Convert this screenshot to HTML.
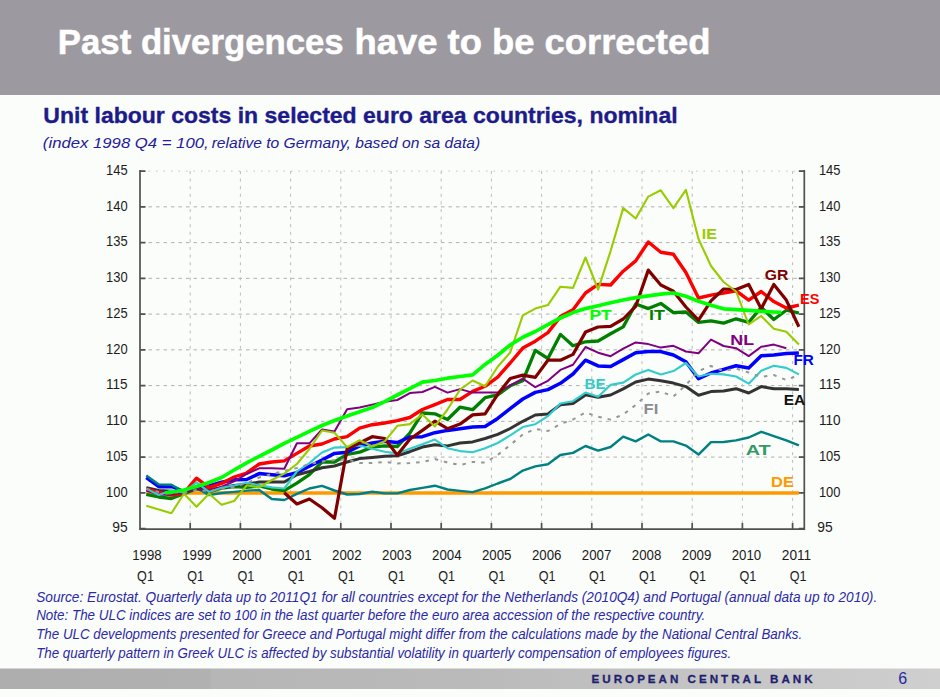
<!DOCTYPE html><html><head><meta charset="utf-8"><title>Past divergences have to be corrected</title>
<style>html,body{margin:0;padding:0;background:#fbfdfa;}body{width:940px;height:697px;overflow:hidden;position:relative;}svg{position:absolute;left:0;top:0;display:block;}text{font-family:"Liberation Sans",Arial,sans-serif;}</style></head><body>
<svg width="940" height="697" viewBox="0 0 940 697">
<defs><linearGradient id="fg" x1="0" y1="0" x2="1" y2="0"><stop offset="0" stop-color="#aeaeae"/><stop offset="0.222" stop-color="#b1b1b1"/><stop offset="0.226" stop-color="#b6b6b6"/><stop offset="0.5" stop-color="#bababa"/><stop offset="1" stop-color="#cfcfcf"/></linearGradient></defs>
<rect x="0" y="0" width="940" height="95" fill="#9c9aa0"/>
<g font-size="34.5" font-weight="bold" font-style="normal" fill="#ffffff" stroke="#ffffff" stroke-width="0.5"><text x="57.85" y="53.70" textLength="285.86" lengthAdjust="spacingAndGlyphs">Past divergences</text><text x="354.51" y="53.70" textLength="355.86" lengthAdjust="spacingAndGlyphs">have to be corrected</text></g>
<g font-size="21.6" font-weight="bold" font-style="normal" fill="#1d1b8a" stroke="#1d1b8a" stroke-width="0.35"><text x="43.39" y="123.30" textLength="634.24" lengthAdjust="spacingAndGlyphs">Unit labour costs in selected euro area countries, nominal</text></g>
<g font-size="15.4" font-weight="normal" font-style="italic" fill="#23209a"><text x="42.89" y="147.60" textLength="165.76" lengthAdjust="spacingAndGlyphs">(index 1998 Q4 = 100,</text><text x="211.66" y="147.60" textLength="268.44" lengthAdjust="spacingAndGlyphs">relative to Germany, based on sa data)</text></g>
<path d="M141 492.85H804M141 457.10H804M141 421.35H804M141 385.60H804M141 349.85H804M141 314.10H804M141 278.35H804M141 242.60H804M141 206.85H804" stroke="#b0b0b0" stroke-width="1" stroke-dasharray="3.5 4" fill="none"/>
<path d="M141 171.10H804" stroke="#c4c4c4" stroke-width="1" stroke-dasharray="1.5 6" fill="none"/>
<path d="M190.20 171V528M240.40 171V528M290.60 171V528M340.80 171V528M391.00 171V528M441.20 171V528M491.40 171V528M541.60 171V528M591.80 171V528M642.00 171V528M692.20 171V528M742.40 171V528M792.60 171V528" stroke="#bcbcbc" stroke-width="1" stroke-dasharray="3 4.6" fill="none"/>
<path d="M140 170V529.6M139.1 529.2H805.2M804.3 170V530M140 528.6H145.5M798.8 528.6H804.3M140 492.9H145.5M798.8 492.9H804.3M140 457.1H145.5M798.8 457.1H804.3M140 421.4H145.5M798.8 421.4H804.3M140 385.6H145.5M798.8 385.6H804.3M140 349.9H145.5M798.8 349.9H804.3M140 314.1H145.5M798.8 314.1H804.3M140 278.4H145.5M798.8 278.4H804.3M140 242.6H145.5M798.8 242.6H804.3M140 206.9H145.5M798.8 206.9H804.3M140 171.1H145.5M798.8 171.1H804.3M190.2 523V529M240.4 523V529M290.6 523V529M340.8 523V529M391.0 523V529M441.2 523V529M491.4 523V529M541.6 523V529M591.8 523V529M642.0 523V529M692.2 523V529M742.4 523V529M792.6 523V529" stroke="#505050" stroke-width="1.7" fill="none"/>
<g fill="#1c1c1c"><text x="127.6" y="532.3" text-anchor="end" font-size="14.8" textLength="15.4" lengthAdjust="spacingAndGlyphs">95</text><text x="817.3" y="532.3" font-size="14.8" textLength="15.4" lengthAdjust="spacingAndGlyphs">95</text><text x="127.6" y="496.6" text-anchor="end" font-size="14.8" textLength="21.6" lengthAdjust="spacingAndGlyphs">100</text><text x="818.9" y="496.6" font-size="14.8" textLength="21.6" lengthAdjust="spacingAndGlyphs">100</text><text x="127.6" y="460.8" text-anchor="end" font-size="14.8" textLength="21.6" lengthAdjust="spacingAndGlyphs">105</text><text x="818.9" y="460.8" font-size="14.8" textLength="21.6" lengthAdjust="spacingAndGlyphs">105</text><text x="127.6" y="425.1" text-anchor="end" font-size="14.8" textLength="21.6" lengthAdjust="spacingAndGlyphs">110</text><text x="818.9" y="425.1" font-size="14.8" textLength="21.6" lengthAdjust="spacingAndGlyphs">110</text><text x="127.6" y="389.3" text-anchor="end" font-size="14.8" textLength="21.6" lengthAdjust="spacingAndGlyphs">115</text><text x="818.9" y="389.3" font-size="14.8" textLength="21.6" lengthAdjust="spacingAndGlyphs">115</text><text x="127.6" y="353.6" text-anchor="end" font-size="14.8" textLength="21.6" lengthAdjust="spacingAndGlyphs">120</text><text x="818.9" y="353.6" font-size="14.8" textLength="21.6" lengthAdjust="spacingAndGlyphs">120</text><text x="127.6" y="317.8" text-anchor="end" font-size="14.8" textLength="21.6" lengthAdjust="spacingAndGlyphs">125</text><text x="818.9" y="317.8" font-size="14.8" textLength="21.6" lengthAdjust="spacingAndGlyphs">125</text><text x="127.6" y="282.1" text-anchor="end" font-size="14.8" textLength="21.6" lengthAdjust="spacingAndGlyphs">130</text><text x="818.9" y="282.1" font-size="14.8" textLength="21.6" lengthAdjust="spacingAndGlyphs">130</text><text x="127.6" y="246.3" text-anchor="end" font-size="14.8" textLength="21.6" lengthAdjust="spacingAndGlyphs">135</text><text x="818.9" y="246.3" font-size="14.8" textLength="21.6" lengthAdjust="spacingAndGlyphs">135</text><text x="127.6" y="210.6" text-anchor="end" font-size="14.8" textLength="21.6" lengthAdjust="spacingAndGlyphs">140</text><text x="818.9" y="210.6" font-size="14.8" textLength="21.6" lengthAdjust="spacingAndGlyphs">140</text><text x="127.6" y="174.8" text-anchor="end" font-size="14.8" textLength="21.6" lengthAdjust="spacingAndGlyphs">145</text><text x="818.9" y="174.8" font-size="14.8" textLength="21.6" lengthAdjust="spacingAndGlyphs">145</text><text x="147.0" y="559.9" text-anchor="middle" font-size="14" textLength="29.5" lengthAdjust="spacingAndGlyphs">1998</text><text x="145.5" y="581" text-anchor="middle" font-size="14" textLength="16.8" lengthAdjust="spacingAndGlyphs">Q1</text><text x="197.0" y="559.9" text-anchor="middle" font-size="14" textLength="29.5" lengthAdjust="spacingAndGlyphs">1999</text><text x="195.7" y="581" text-anchor="middle" font-size="14" textLength="16.8" lengthAdjust="spacingAndGlyphs">Q1</text><text x="246.9" y="559.9" text-anchor="middle" font-size="14" textLength="29.5" lengthAdjust="spacingAndGlyphs">2000</text><text x="245.9" y="581" text-anchor="middle" font-size="14" textLength="16.8" lengthAdjust="spacingAndGlyphs">Q1</text><text x="296.9" y="559.9" text-anchor="middle" font-size="14" textLength="29.5" lengthAdjust="spacingAndGlyphs">2001</text><text x="296.1" y="581" text-anchor="middle" font-size="14" textLength="16.8" lengthAdjust="spacingAndGlyphs">Q1</text><text x="346.8" y="559.9" text-anchor="middle" font-size="14" textLength="29.5" lengthAdjust="spacingAndGlyphs">2002</text><text x="346.3" y="581" text-anchor="middle" font-size="14" textLength="16.8" lengthAdjust="spacingAndGlyphs">Q1</text><text x="396.8" y="559.9" text-anchor="middle" font-size="14" textLength="29.5" lengthAdjust="spacingAndGlyphs">2003</text><text x="396.5" y="581" text-anchor="middle" font-size="14" textLength="16.8" lengthAdjust="spacingAndGlyphs">Q1</text><text x="446.8" y="559.9" text-anchor="middle" font-size="14" textLength="29.5" lengthAdjust="spacingAndGlyphs">2004</text><text x="446.7" y="581" text-anchor="middle" font-size="14" textLength="16.8" lengthAdjust="spacingAndGlyphs">Q1</text><text x="496.7" y="559.9" text-anchor="middle" font-size="14" textLength="29.5" lengthAdjust="spacingAndGlyphs">2005</text><text x="496.9" y="581" text-anchor="middle" font-size="14" textLength="16.8" lengthAdjust="spacingAndGlyphs">Q1</text><text x="546.7" y="559.9" text-anchor="middle" font-size="14" textLength="29.5" lengthAdjust="spacingAndGlyphs">2006</text><text x="547.1" y="581" text-anchor="middle" font-size="14" textLength="16.8" lengthAdjust="spacingAndGlyphs">Q1</text><text x="596.6" y="559.9" text-anchor="middle" font-size="14" textLength="29.5" lengthAdjust="spacingAndGlyphs">2007</text><text x="597.3" y="581" text-anchor="middle" font-size="14" textLength="16.8" lengthAdjust="spacingAndGlyphs">Q1</text><text x="646.6" y="559.9" text-anchor="middle" font-size="14" textLength="29.5" lengthAdjust="spacingAndGlyphs">2008</text><text x="647.5" y="581" text-anchor="middle" font-size="14" textLength="16.8" lengthAdjust="spacingAndGlyphs">Q1</text><text x="696.6" y="559.9" text-anchor="middle" font-size="14" textLength="29.5" lengthAdjust="spacingAndGlyphs">2009</text><text x="697.7" y="581" text-anchor="middle" font-size="14" textLength="16.8" lengthAdjust="spacingAndGlyphs">Q1</text><text x="746.5" y="559.9" text-anchor="middle" font-size="14" textLength="29.5" lengthAdjust="spacingAndGlyphs">2010</text><text x="747.9" y="581" text-anchor="middle" font-size="14" textLength="16.8" lengthAdjust="spacingAndGlyphs">Q1</text><text x="796.5" y="559.9" text-anchor="middle" font-size="14" textLength="29.5" lengthAdjust="spacingAndGlyphs">2011</text><text x="798.1" y="581" text-anchor="middle" font-size="14" textLength="16.8" lengthAdjust="spacingAndGlyphs">Q1</text></g>
<polyline points="146.3,492.9 158.8,492.9 171.4,492.9 183.9,492.9 196.5,492.9 209.0,492.9 221.6,492.9 234.1,492.9 246.7,492.9 259.2,492.9 271.8,492.9 284.3,492.9 296.9,492.9 309.4,492.9 322.0,492.9 334.5,492.9 347.1,492.9 359.6,492.9 372.2,492.9 384.7,492.9 397.3,492.9 409.8,492.9 422.4,492.9 434.9,492.9 447.5,492.9 460.0,492.9 472.6,492.9 485.1,492.9 497.7,492.9 510.2,492.9 522.8,492.9 535.3,492.9 547.9,492.9 560.4,492.9 573.0,492.9 585.5,492.9 598.1,492.9 610.6,492.9 623.2,492.9 635.7,492.9 648.3,492.9 660.8,492.9 673.4,492.9 685.9,492.9 698.5,492.9 711.0,492.9 723.6,492.9 736.1,492.9 748.7,492.9 761.2,492.9 773.8,492.9 786.3,492.9 798.9,492.9" fill="none" stroke="#ff9900" stroke-width="3.5" stroke-linejoin="round"/>
<polyline points="146.3,494.4 158.8,497.0 171.4,498.5 183.9,493.7 196.5,488.7 209.0,491.9 221.6,488.2 234.1,486.6 246.7,487.4 259.2,486.0 271.8,489.0 284.3,490.6 296.9,483.2 309.4,474.7 322.0,462.0 334.5,462.0 347.1,454.5 359.6,452.2 372.2,447.1 384.7,445.9 397.3,446.5 409.8,433.2 422.4,413.0 434.9,413.8 447.5,419.5 460.0,407.2 472.6,409.7 485.1,397.7 497.7,394.9 510.2,385.8 522.8,380.8 535.3,350.4 547.9,358.5 560.4,334.4 573.0,345.8 585.5,341.8 598.1,341.0 610.6,333.8 623.2,326.9 635.7,304.0 648.3,308.6 660.8,303.4 673.4,312.6 685.9,312.0 698.5,322.4 711.0,320.9 723.6,323.1 736.1,318.8 748.7,322.4 761.2,307.3 773.8,319.5 786.3,310.2 798.9,313.0" fill="none" stroke="#008000" stroke-width="3.3" stroke-linejoin="round"/>
<polyline points="146.3,477.5 158.8,486.7 171.4,486.5 183.9,491.5 196.5,488.0 209.0,486.0 221.6,482.3 234.1,479.7 246.7,479.5 259.2,473.6 271.8,474.7 284.3,475.7 296.9,472.6 309.4,466.2 322.0,460.0 334.5,453.4 347.1,452.2 359.6,445.9 372.2,443.0 384.7,441.3 397.3,442.5 409.8,437.0 422.4,436.7 434.9,432.7 447.5,430.4 460.0,428.7 472.6,427.0 485.1,426.4 497.7,418.4 510.2,408.7 522.8,399.0 535.3,392.4 547.9,389.6 560.4,383.3 573.0,374.0 585.5,360.2 598.1,365.9 610.6,366.5 623.2,359.6 635.7,352.7 648.3,351.6 660.8,351.6 673.4,355.0 685.9,361.8 698.5,378.7 711.0,373.0 723.6,369.4 736.1,365.8 748.7,367.9 761.2,355.7 773.8,355.0 786.3,353.6 798.9,352.9" fill="none" stroke="#0000ff" stroke-width="3.5" stroke-linejoin="round"/>
<polyline points="146.3,475.5 158.8,484.4 171.4,484.8 183.9,491.8 196.5,487.7 209.0,495.1 221.6,493.0 234.1,491.9 246.7,490.6 259.2,490.0 271.8,499.0 284.3,500.0 296.9,493.8 309.4,488.5 322.0,485.9 334.5,490.5 347.1,494.5 359.6,494.0 372.2,491.7 384.7,493.4 397.3,493.4 409.8,490.0 422.4,487.9 434.9,485.7 447.5,489.5 460.0,490.9 472.6,492.1 485.1,488.4 497.7,483.5 510.2,479.0 522.8,470.6 535.3,466.4 547.9,464.3 560.4,455.0 573.0,452.9 585.5,446.0 598.1,450.6 610.6,447.0 623.2,436.6 635.7,441.4 648.3,434.5 660.8,441.4 673.4,441.4 685.9,445.6 698.5,454.6 711.0,442.1 723.6,442.0 736.1,440.4 748.7,437.5 761.2,431.8 773.8,436.1 786.3,440.4 798.9,445.4" fill="none" stroke="#008080" stroke-width="2.4" stroke-linejoin="round"/>
<polyline points="146.3,487.7 158.8,490.5 171.4,491.2 183.9,492.4 196.5,488.7 209.0,489.8 221.6,487.7 234.1,485.5 246.7,484.3 259.2,482.0 271.8,482.0 284.3,482.0 296.9,474.7 309.4,471.5 322.0,467.8 334.5,466.0 347.1,462.0 359.6,458.6 372.2,457.4 384.7,456.3 397.3,455.7 409.8,451.7 422.4,447.1 434.9,444.8 447.5,445.9 460.0,443.0 472.6,441.9 485.1,438.5 497.7,434.4 510.2,428.5 522.8,421.3 535.3,415.0 547.9,413.9 560.4,404.7 573.0,403.5 585.5,394.9 598.1,397.3 610.6,395.0 623.2,388.9 635.7,382.0 648.3,379.1 660.8,380.8 673.4,383.1 685.9,386.6 698.5,395.2 711.0,391.6 723.6,390.9 736.1,388.7 748.7,393.0 761.2,386.6 773.8,388.7 786.3,388.7 798.9,389.5" fill="none" stroke="#333333" stroke-width="3.0" stroke-linejoin="round"/>
<polyline points="146.3,489.2 158.8,492.4 171.4,495.0 183.9,493.0 196.5,478.2 209.0,487.7 221.6,483.4 234.1,477.0 246.7,473.0 259.2,464.0 271.8,462.0 284.3,460.9 296.9,453.4 309.4,446.0 322.0,444.0 334.5,439.0 347.1,436.7 359.6,428.1 372.2,424.7 384.7,423.0 397.3,420.7 409.8,417.5 422.4,409.5 434.9,404.6 447.5,399.5 460.0,399.5 472.6,391.4 485.1,386.3 497.7,377.1 510.2,363.0 522.8,348.1 535.3,341.2 547.9,332.6 560.4,316.6 573.0,309.7 585.5,293.0 598.1,284.4 610.6,285.0 623.2,271.2 635.7,260.9 648.3,242.0 660.8,252.3 673.4,254.3 685.9,272.5 698.5,298.0 711.0,295.1 723.6,293.0 736.1,290.8 748.7,300.1 761.2,291.5 773.8,301.6 786.3,308.0 798.9,305.2" fill="none" stroke="#ff0000" stroke-width="3.4" stroke-linejoin="round"/>
<polyline points="146.3,490.5 158.8,494.7 171.4,494.4 183.9,492.4 196.5,488.2 209.0,490.9 221.6,486.6 234.1,481.3 246.7,474.0 259.2,468.3 271.8,468.3 284.3,468.8 296.9,443.3 309.4,443.3 322.0,429.5 334.5,431.6 347.1,409.2 359.6,407.5 372.2,404.6 384.7,401.7 397.3,400.0 409.8,393.1 422.4,392.0 434.9,386.8 447.5,392.6 460.0,389.1 472.6,392.6 485.1,392.6 497.7,392.6 510.2,385.3 522.8,378.6 535.3,387.2 547.9,380.8 560.4,369.9 573.0,364.8 585.5,347.0 598.1,352.7 610.6,356.2 623.2,348.7 635.7,342.4 648.3,344.1 660.8,347.6 673.4,345.8 685.9,351.5 698.5,353.2 711.0,339.6 723.6,346.0 736.1,348.2 748.7,356.1 761.2,346.8 773.8,344.6 786.3,348.2" fill="none" stroke="#800080" stroke-width="2.0" stroke-linejoin="round"/>
<polyline points="146.3,488.6 158.8,495.0 171.4,490.5 183.9,492.4 196.5,482.3 209.0,491.9 221.6,487.7 234.1,485.5 246.7,482.7 259.2,485.3 271.8,487.4 284.3,488.5 296.9,471.5 309.4,463.0 322.0,452.5 334.5,447.6 347.1,447.1 359.6,445.4 372.2,448.8 384.7,451.7 397.3,453.4 409.8,448.8 422.4,444.2 434.9,439.6 447.5,448.2 460.0,451.1 472.6,452.2 485.1,448.2 497.7,443.0 510.2,435.4 522.8,427.1 535.3,424.2 547.9,416.2 560.4,403.5 573.0,401.2 585.5,392.6 598.1,396.8 610.6,384.9 623.2,382.6 635.7,374.5 648.3,369.9 660.8,374.5 673.4,371.1 685.9,363.0 698.5,376.5 711.0,373.7 723.6,374.4 736.1,376.5 748.7,383.7 761.2,370.8 773.8,365.8 786.3,367.9 798.9,374.4" fill="none" stroke="#33cccc" stroke-width="2.1" stroke-linejoin="round"/>
<polyline points="284.3,492.8 296.9,504.0 309.4,499.0 322.0,507.7 334.5,518.3 347.1,449.0 359.6,443.0 372.2,436.7 384.7,438.5 397.3,455.1 409.8,439.3 422.4,430.4 434.9,421.2 447.5,428.7 460.0,424.1 472.6,414.9 485.1,413.8 497.7,394.3 510.2,378.5 522.8,375.1 535.3,377.4 547.9,360.2 560.4,360.2 573.0,354.4 585.5,332.1 598.1,327.0 610.6,326.3 623.2,319.0 635.7,306.3 648.3,270.1 660.8,285.0 673.4,291.3 685.9,307.0 698.5,320.2 711.0,300.8 723.6,289.0 736.1,289.5 748.7,284.4 761.2,308.7 773.8,284.4 786.3,300.1 798.9,326.7" fill="none" stroke="#800000" stroke-width="3.2" stroke-linejoin="round"/>
<polyline points="146.3,489.0 158.8,492.0 171.4,492.0 183.9,493.0 196.5,490.0 209.0,491.0 221.6,489.0 234.1,487.0 246.7,483.0 259.2,477.5 271.8,474.0 284.3,471.0 296.9,468.0 309.4,464.0 322.0,461.5 334.5,460.0 347.1,459.5 359.6,463.0 372.2,463.0 384.7,462.0 397.3,463.5 409.8,463.0 422.4,462.0 434.9,459.0 447.5,462.6 460.0,465.0 472.6,462.0 485.1,462.6 497.7,455.0 510.2,445.0 522.8,434.5 535.3,429.0 547.9,431.0 560.4,424.0 573.0,419.5 585.5,412.5 598.1,416.7 610.6,419.6 623.2,414.5 635.7,405.0 648.3,393.5 660.8,391.5 673.4,396.5 685.9,385.0 698.5,371.0 711.0,366.0 723.6,371.0 736.1,368.5 748.7,372.5 761.2,377.0 773.8,375.0 786.3,380.0 798.9,375.0" fill="none" stroke="#969696" stroke-width="2.0" stroke-linejoin="round" stroke-dasharray="3.5 6"/>
<polyline points="146.3,505.7 158.8,509.5 171.4,513.2 183.9,493.8 196.5,506.8 209.0,493.8 221.6,504.7 234.1,501.0 246.7,485.3 259.2,487.4 271.8,480.0 284.3,473.6 296.9,464.0 309.4,449.0 322.0,430.5 334.5,432.7 347.1,447.1 359.6,440.2 372.2,446.5 384.7,441.3 397.3,425.8 409.8,424.1 422.4,414.4 434.9,426.4 447.5,409.5 460.0,389.7 472.6,380.5 485.1,386.3 497.7,366.7 510.2,352.5 522.8,315.4 535.3,308.6 547.9,305.1 560.4,286.7 573.0,287.9 585.5,257.5 598.1,289.6 610.6,251.0 623.2,208.1 635.7,218.5 648.3,196.6 660.8,190.3 673.4,208.1 685.9,189.8 698.5,239.0 711.0,266.0 723.6,282.0 736.1,291.5 748.7,324.5 761.2,315.9 773.8,328.8 786.3,331.7 798.9,344.6" fill="none" stroke="#99cc00" stroke-width="2.1" stroke-linejoin="round"/>
<polyline points="165.1,493.0 171.4,492.3 183.9,490.0 196.5,486.5 209.0,482.5 221.6,477.5 234.1,470.0 246.7,462.8 259.2,456.3 271.8,450.0 284.3,443.4 296.9,437.3 309.4,431.4 322.0,425.5 334.5,420.5 347.1,416.0 359.6,411.8 372.2,407.5 384.7,401.6 397.3,395.0 409.8,388.6 422.4,382.2 434.9,380.5 447.5,378.2 460.0,376.5 472.6,374.8 485.1,364.4 497.7,355.3 510.2,345.0 522.8,337.2 535.3,331.5 547.9,324.6 560.4,318.0 573.0,312.6 585.5,308.6 598.1,305.7 610.6,302.8 623.2,300.0 635.7,297.6 648.3,295.9 660.8,294.2 673.4,293.0 685.9,296.3 698.5,301.3 711.0,305.2 723.6,308.8 736.1,309.6 748.7,310.4 761.2,311.3 773.8,312.0 781.3,312.3" fill="none" stroke="#00ff00" stroke-width="3.7" stroke-linejoin="round"/>
<text x="701.8" y="238.8" font-size="13.8" font-weight="bold" fill="#99cc00" textLength="15.1" lengthAdjust="spacingAndGlyphs">IE</text>
<text x="764.7" y="280.2" font-size="13.8" font-weight="bold" fill="#800000" textLength="23.6" lengthAdjust="spacingAndGlyphs">GR</text>
<text x="800.1" y="304.1" font-size="13.8" font-weight="bold" fill="#ff0000" textLength="19.4" lengthAdjust="spacingAndGlyphs">ES</text>
<text x="589.4" y="320.3" font-size="13.8" font-weight="bold" fill="#00ff00" textLength="22.3" lengthAdjust="spacingAndGlyphs">PT</text>
<text x="649.0" y="320.3" font-size="13.8" font-weight="bold" fill="#008000" textLength="15.9" lengthAdjust="spacingAndGlyphs">IT</text>
<text x="730.3" y="345.0" font-size="13.8" font-weight="bold" fill="#800080" textLength="23.8" lengthAdjust="spacingAndGlyphs">NL</text>
<text x="793.4" y="364.5" font-size="13.8" font-weight="bold" fill="#0000ff" textLength="20.4" lengthAdjust="spacingAndGlyphs">FR</text>
<text x="584.4" y="389.0" font-size="13.8" font-weight="bold" fill="#33cccc" textLength="21.3" lengthAdjust="spacingAndGlyphs">BE</text>
<text x="783.7" y="404.7" font-size="13.8" font-weight="bold" fill="#111111" textLength="21.5" lengthAdjust="spacingAndGlyphs">EA</text>
<text x="643.5" y="413.7" font-size="13.8" font-weight="bold" fill="#8c8c96" textLength="14.8" lengthAdjust="spacingAndGlyphs">FI</text>
<text x="745.7" y="454.9" font-size="13.8" font-weight="bold" fill="#339966" textLength="25.0" lengthAdjust="spacingAndGlyphs">AT</text>
<text x="771.1" y="487.2" font-size="13.8" font-weight="bold" fill="#ff9900" textLength="22.8" lengthAdjust="spacingAndGlyphs">DE</text>
<text x="36.2" y="601.6" font-size="14" font-style="italic" fill="#2b29a8" textLength="841" lengthAdjust="spacingAndGlyphs">Source: Eurostat. Quarterly data up to 2011Q1 for all countries except for the Netherlands (2010Q4) and Portugal (annual data up to 2010).</text>
<text x="36.2" y="620.3" font-size="14" font-style="italic" fill="#2b29a8" textLength="669" lengthAdjust="spacingAndGlyphs">Note: The ULC indices are set to 100 in the last quarter before the euro area accession of the respective country.</text>
<text x="36.2" y="639.0" font-size="14" font-style="italic" fill="#2b29a8" textLength="766" lengthAdjust="spacingAndGlyphs">The ULC developments presented for Greece and Portugal might differ from the calculations made by the National Central Banks.</text>
<text x="36.2" y="657.7" font-size="14" font-style="italic" fill="#2b29a8" textLength="695" lengthAdjust="spacingAndGlyphs">The quarterly pattern in Greek ULC is affected by substantial volatility in quarterly compensation of employees figures.</text>
<rect x="0" y="668.5" width="940" height="20.5" fill="url(#fg)"/>
<text x="591.6" y="682.8" font-size="11.6" font-weight="bold" fill="#1f1f70" stroke="#1f1f70" stroke-width="0.3" textLength="221" lengthAdjust="spacing">EUROPEAN CENTRAL BANK</text>
<text x="898.3" y="683.6" font-size="16" fill="#2a2aa0">6</text>
</svg></body></html>
